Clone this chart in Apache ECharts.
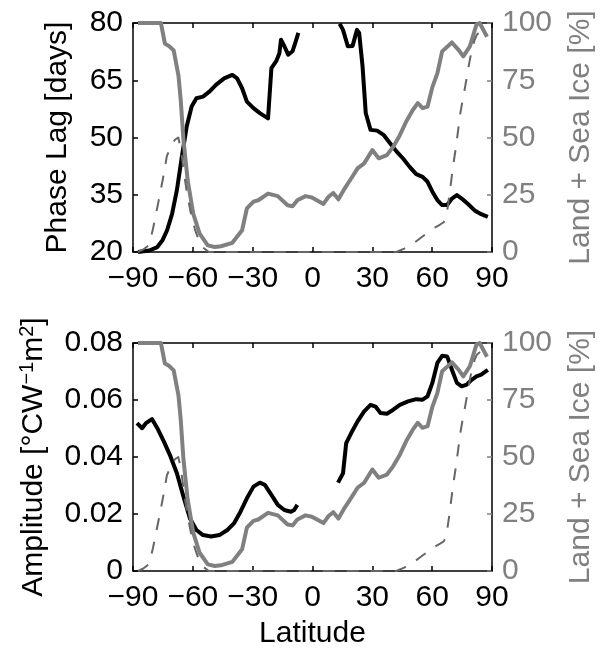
<!DOCTYPE html>
<html>
<head>
<meta charset="utf-8">
<script src="https://cdn.jsdelivr.net/npm/echarts@6/dist/echarts.min.js"></script>
<style>
  html, body { margin: 0; padding: 0; background: #fff; }
  #chart { width: 604px; height: 651px; }
</style>
</head>
<body>
<div id="chart"></div>
<script>
// Zonal land + sea ice fraction (%), solid grey
const landLat = [-87.5, -85, -82.5, -80, -77.5, -76, -74, -72, -69.6, -67.2, -66.1, -64.7, -62.6, -59.8, -56.6, -52.5, -49, -45.9, -40.2, -35.3, -32.9, -29.6, -27.2, -22.3, -17.4, -12.5, -10, -7.6, -3.5, -0.3, 5.5, 7.9, 10.4, 13, 16.1, 19.3, 22.6, 25.9, 30, 33.2, 37.3, 40.5, 43.8, 47, 50.3, 52.8, 55.2, 57.7, 60.1, 62.6, 65, 69.9, 73.2, 75.6, 78.9, 82.2, 83.8, 87.5];
const landPct = [100, 100, 100, 100, 100, 100, 91, 90, 88, 77, 66.7, 49, 31.4, 16.8, 8, 2.9, 2.2, 2.5, 4, 9.5, 19, 22, 22.6, 25.5, 24.4, 20.4, 20, 22.6, 24.4, 23.8, 21, 24, 25.8, 23, 27.7, 32, 36.5, 38.7, 44.5, 40.9, 42.3, 46, 51, 57, 62, 65, 62.8, 63.5, 72, 78, 87.6, 91.5, 88.3, 85.4, 89.8, 99.3, 100, 94];

// Second fraction curve (%), dashed grey
const iceLat = [-87.5, -85, -82, -80, -77, -75, -73, -71, -69, -67.3, -66, -64.5, -63, -61, -59, -57, -55, -52, -45, -30, -15, 0, 15, 30, 42, 46, 50.3, 54, 57, 60, 62, 64, 65.8, 67, 68.2, 69.1, 70.4, 71.6, 73, 74, 75.2, 76.5, 77.7, 78.9, 80, 81.3, 82.5, 84.6, 87.5];
const icePct = [0, 1, 3, 10, 23, 32, 42, 46, 49, 50, 45, 35, 26, 17, 10, 5, 2, 0, 0, 0, 0, 0, 0, 0, 0, 1.5, 3.6, 6, 8, 10, 11, 12, 13, 15, 22, 28, 37, 44, 53, 60, 66, 72, 78, 84, 88.5, 92.7, 95, 96.5, 98.5];

// Phase lag (days), southern and northern extratropics
const phaseSouthLat = [-87.5, -81.8, -77.8, -75.3, -72.9, -70.4, -68, -65.5, -63.1, -60.6, -58.2, -54.9, -51.7, -48.4, -44.3, -40.2, -37.8, -35.3, -32.9, -29.6, -26.4, -22.3, -20.6, -18.2, -16.6, -15.8, -14.1, -12.2, -10, -8.4, -7.1];
const phaseSouthDays = [20, 20.4, 21.3, 23, 25.7, 30, 36.2, 45, 52.8, 58.1, 60.3, 60.7, 62, 63.8, 65.5, 66.4, 65.5, 62.9, 59.4, 57.7, 56.4, 55, 68.2, 70, 72.1, 75.6, 73.9, 71.7, 72.6, 75.2, 77.4];
const phaseNorthLat = [13.6, 15.3, 17.7, 20.1, 22.3, 23.4, 25.1, 26.7, 29.1, 32.4, 35.6, 38.9, 42.2, 45.4, 48.7, 52, 55.2, 57.7, 60.1, 62.6, 65, 67.5, 69.9, 72.4, 74.8, 78.1, 81.3, 84.6, 87.9];
const phaseNorthDays = [79.8, 78.2, 73.9, 74, 78.2, 77.4, 68.6, 56.4, 52, 51.8, 50.7, 48.5, 46.3, 44.5, 42.3, 40.4, 39.7, 38.4, 35.8, 33.6, 32.3, 32.3, 34, 34.9, 34, 32.5, 30.9, 29.9, 29.2];

// Amplitude (°C W^-1 m^2)
const ampSouthLat = [-88, -85.4, -83.5, -80.5, -77.8, -74.5, -71.2, -68, -64.7, -61.5, -58.2, -54.9, -50.8, -46.7, -42.7, -39.4, -36.1, -32.9, -29.6, -26.4, -23.9, -20.6, -17.4, -14.1, -10.8, -9.2, -7.6];
const ampSouth = [0.0519, 0.0501, 0.0519, 0.0533, 0.0501, 0.0454, 0.0402, 0.0343, 0.0261, 0.0185, 0.0144, 0.0126, 0.0121, 0.0126, 0.0144, 0.0167, 0.0208, 0.0255, 0.0296, 0.031, 0.0302, 0.0267, 0.0232, 0.0214, 0.0208, 0.0214, 0.0232];
const ampNorthLat = [12.8, 15.3, 16.9, 19.4, 22.6, 25.9, 29.1, 31.6, 34.1, 37.3, 40.5, 43.8, 47.9, 52, 55.2, 57.7, 60.1, 62.6, 65, 67.5, 69.9, 72.4, 74.8, 77.3, 79.8, 82.2, 84.6, 87.9];
const ampNorth = [0.031, 0.0343, 0.0449, 0.0484, 0.0525, 0.056, 0.0583, 0.0577, 0.0554, 0.0552, 0.0566, 0.0583, 0.0595, 0.0603, 0.0601, 0.0613, 0.066, 0.073, 0.0755, 0.0753, 0.0706, 0.066, 0.0648, 0.0654, 0.0671, 0.0683, 0.0689, 0.0706];

// Axis ranges and tick steps
const latTicks = [-90, 90, 30];
const phaseTicks = [20, 80, 15];
const ampTicks = [0, 0.08, 0.02];
const pctTicks = [0, 100, 25];

const FONT = 'Liberation Sans, Arial, Helvetica, sans-serif';
const BLACK = '#000000';
const GREY = '#808080';
const DASH_GREY = '#666666';

const pairs = (xs, ys) => xs.map((x, i) => [x, ys[i]]);
const minus = v => (v < 0 ? '\u2212' + Math.abs(v) : String(v));

function xBottom(grid, name) {
  return {
    type: 'value', gridIndex: grid, position: 'bottom',
    min: latTicks[0], max: latTicks[1], interval: latTicks[2],
    axisLine: { show: true, onZero: false, lineStyle: { color: BLACK, width: 1.5 } },
    axisTick: { show: true, inside: true, length: 5, lineStyle: { color: BLACK, width: 1.5 } },
    axisLabel: { show: true, fontFamily: FONT, fontSize: 30, color: BLACK, margin: 12, formatter: minus },
    splitLine: { show: false },
    name: name || '', nameLocation: 'middle', nameGap: 48,
    nameTextStyle: { fontFamily: FONT, fontSize: 30, color: BLACK }
  };
}
function xTop(grid) {
  return {
    type: 'value', gridIndex: grid, position: 'top',
    min: latTicks[0], max: latTicks[1], interval: latTicks[2],
    axisLine: { show: true, onZero: false, lineStyle: { color: BLACK, width: 1.5 } },
    axisTick: { show: true, inside: true, length: 5, lineStyle: { color: BLACK, width: 1.5 } },
    axisLabel: { show: false },
    splitLine: { show: false }
  };
}
function yLeft(grid, t, name, fmt, gap, rich) {
  return {
    type: 'value', gridIndex: grid, position: 'left',
    min: t[0], max: t[1], interval: t[2],
    axisLine: { show: true, onZero: false, lineStyle: { color: BLACK, width: 1.5 } },
    axisTick: { show: true, inside: true, length: 5, lineStyle: { color: BLACK, width: 1.5 } },
    axisLabel: { fontFamily: FONT, fontSize: 30, color: BLACK, margin: 10, formatter: fmt },
    splitLine: { show: false },
    name: name, nameLocation: 'middle', nameRotate: 90, nameGap: gap,
    nameTextStyle: Object.assign({ fontFamily: FONT, fontSize: 30, color: BLACK }, rich ? { rich: rich } : {})
  };
}
function yRight(grid) {
  return {
    type: 'value', gridIndex: grid, position: 'right',
    min: pctTicks[0], max: pctTicks[1], interval: pctTicks[2],
    axisLine: { show: true, onZero: false, lineStyle: { color: BLACK, width: 1.5 } },
    axisTick: { show: true, inside: true, length: 5, lineStyle: { color: GREY, width: 1.5 } },
    axisLabel: { fontFamily: FONT, fontSize: 30, color: GREY, margin: 10 },
    splitLine: { show: false },
    name: 'Land + Sea Ice [%]', nameLocation: 'middle', nameRotate: 90, nameGap: 74,
    nameTextStyle: { fontFamily: FONT, fontSize: 30, color: GREY }
  };
}

function line(xi, yi, data, color, width, dash) {
  return {
    type: 'line', xAxisIndex: xi, yAxisIndex: yi, data: data,
    showSymbol: false, symbol: 'none', clip: false, smooth: false,
    lineStyle: { color: color, width: width, type: dash || 'solid', cap: 'butt', join: 'round' },
    emphasis: { disabled: true }, silent: true, animation: false
  };
}

const ampRich = {
  a: { fontFamily: FONT, fontSize: 30, color: BLACK },
  s: { fontFamily: FONT, fontSize: 20, color: BLACK, verticalAlign: 'top', padding: [0, 0, 14, 0] }
};

const chart = echarts.init(document.getElementById('chart'), null, { renderer: 'canvas' });
chart.setOption({
  animation: false,
  backgroundColor: '#ffffff',
  grid: [
    { left: 133, top: 23, width: 368, height: 229 },
    { left: 133, top: 343, width: 368, height: 228 }
  ],
  xAxis: [xBottom(0), xTop(0), xBottom(1, 'Latitude'), xTop(1)],
  yAxis: [
    yLeft(0, phaseTicks, 'Phase Lag [days]', v => String(v), 60),
    yRight(0),
    yLeft(1, ampTicks, '{a|Amplitude [°CW}{s|\u22121}{a|m}{s|2}{a|]}', v => (v === 0 ? '0' : v.toFixed(2)), 82, ampRich),
    yRight(1)
  ],
  series: [
    line(0, 0, pairs(phaseSouthLat, phaseSouthDays), BLACK, 4),
    line(0, 0, pairs(phaseNorthLat, phaseNorthDays), BLACK, 4),
    line(0, 1, pairs(landLat, landPct), GREY, 4),
    line(0, 1, pairs(iceLat, icePct), DASH_GREY, 2, [12, 12]),
    line(2, 2, pairs(ampSouthLat, ampSouth), BLACK, 4),
    line(2, 2, pairs(ampNorthLat, ampNorth), BLACK, 4),
    line(2, 3, pairs(landLat, landPct), GREY, 4),
    line(2, 3, pairs(iceLat, icePct), DASH_GREY, 2, [12, 12])
  ]
});
</script>
</body>
</html>
